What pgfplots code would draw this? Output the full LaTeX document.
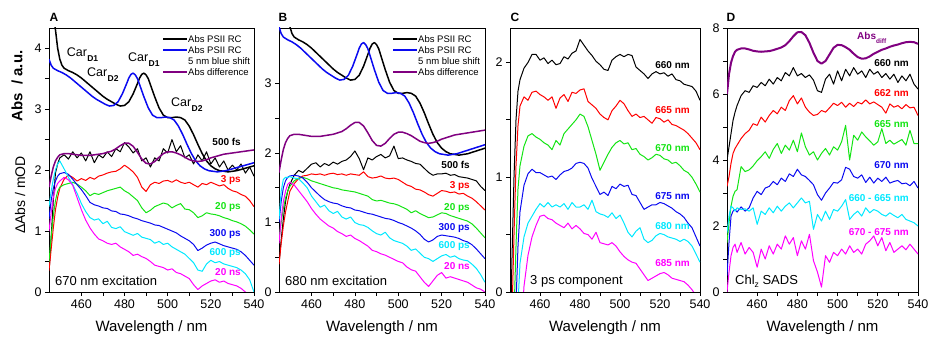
\documentclass[border=0pt]{standalone}
\usepackage{pgfplots}
\usepackage{pgfplotstable}
\pgfplotsset{compat=1.18}
\usepackage{fontspec}
\setmainfont{Liberation Sans}
\definecolor{cred}{RGB}{255,0,0}
\definecolor{cgreen}{RGB}{20,228,20}
\definecolor{cblue}{RGB}{10,10,240}
\definecolor{ccyan}{RGB}{0,232,255}
\definecolor{cmag}{RGB}{255,0,255}
\definecolor{cpurple}{RGB}{128,0,128}

\pgfplotstableread{
nm fs p3 p20 p300 p600 n20
445 0.30 0.35 0.50 1.20 1.40 1.00
446 0.90 0.70 0.90 1.50 1.65 1.30
447 1.50 1.05 1.25 1.70 1.85 1.55
448 1.95 1.35 1.50 1.82 2.00 1.70
449 2.10 1.55 1.65 1.90 2.10 1.78
450 2.20 1.70 1.72 1.94 2.15 1.82
452 2.25 1.85 1.76 1.96 2.02 1.88
454 2.18 1.92 1.78 1.93 1.88 1.84
456 2.30 1.88 1.80 1.85 1.76 1.75
458 2.20 1.82 1.77 1.76 1.62 1.55
460 2.28 1.86 1.72 1.68 1.45 1.35
462 2.15 1.83 1.66 1.58 1.32 1.18
464 2.30 1.88 1.58 1.47 1.22 1.05
466 2.12 1.85 1.62 1.43 1.18 0.95
468 2.25 1.90 1.60 1.41 1.20 0.87
470 2.20 1.92 1.63 1.38 1.12 0.84
472 2.30 1.95 1.66 1.37 1.16 0.80
474 2.22 1.97 1.68 1.33 1.06 0.78
476 2.35 1.98 1.70 1.32 1.04 0.80
478 2.30 2.02 1.72 1.28 1.07 0.74
480 2.45 2.08 1.66 1.27 0.99 0.70
482 2.38 2.03 1.62 1.25 0.96 0.66
484 2.28 1.97 1.56 1.22 0.93 0.60
486 2.35 1.88 1.50 1.20 0.96 0.62
488 2.15 1.72 1.38 1.17 0.90 0.58
490 2.20 1.65 1.30 1.15 0.88 0.55
492 2.05 1.76 1.34 1.13 0.86 0.50
494 2.20 1.80 1.40 1.10 0.80 0.44
496 2.15 1.78 1.43 1.09 0.83 0.42
498 2.35 1.82 1.46 1.06 0.78 0.40
500 2.28 1.83 1.44 1.03 0.80 0.36
502 2.50 1.80 1.38 1.00 0.74 0.38
504 2.30 1.84 1.42 0.97 0.70 0.32
506 2.40 1.80 1.45 0.92 0.66 0.30
508 2.20 1.78 1.36 0.88 0.62 0.26
510 2.25 1.80 1.35 0.84 0.55 0.22
512 2.10 1.76 1.30 0.78 0.48 0.12
514 2.25 1.72 1.22 0.68 0.36 0.04
516 2.15 1.78 1.25 0.72 0.34 0.10
518 2.30 1.76 1.30 0.77 0.46 0.14
520 2.10 1.80 1.28 0.80 0.52 0.18
522 2.20 1.77 1.27 0.82 0.48 0.20
524 2.05 1.74 1.25 0.79 0.50 0.16
526 2.15 1.76 1.22 0.76 0.46 0.18
528 2.00 1.70 1.20 0.74 0.44 0.14
530 2.08 1.66 1.17 0.72 0.42 0.12
532 2.00 1.64 1.15 0.70 0.40 0.10
534 2.10 1.60 1.12 0.66 0.36 0.06
536 1.95 1.57 1.08 0.60 0.30 0.00
538 2.05 1.50 1.02 0.52 0.20 -0.05
540 1.90 1.40 0.95 0.44 0.00 -0.10
}\tabA

\pgfplotstableread{
nm fs p3 p20 p300 p600 n20
445 0.40 0.40 0.75 1.00 1.05 0.70
446 0.75 0.70 1.00 1.30 1.45 1.05
447 1.05 0.95 1.20 1.50 1.62 1.30
448 1.30 1.15 1.35 1.60 1.65 1.45
449 1.45 1.30 1.45 1.65 1.65 1.55
450 1.55 1.45 1.52 1.67 1.66 1.58
452 1.68 1.56 1.60 1.68 1.64 1.54
454 1.75 1.63 1.64 1.67 1.63 1.46
456 1.72 1.67 1.65 1.64 1.57 1.38
458 1.78 1.68 1.63 1.58 1.50 1.30
460 1.84 1.70 1.60 1.50 1.38 1.20
462 1.86 1.69 1.58 1.44 1.30 1.12
464 1.80 1.70 1.56 1.38 1.22 1.05
466 1.85 1.68 1.54 1.33 1.25 1.00
468 1.82 1.70 1.52 1.30 1.17 0.95
470 1.87 1.71 1.50 1.28 1.13 0.92
472 1.84 1.69 1.49 1.27 1.16 0.87
474 1.88 1.70 1.47 1.24 1.08 0.84
476 1.90 1.68 1.46 1.22 1.05 0.80
478 1.95 1.70 1.45 1.21 1.08 0.82
480 2.03 1.69 1.44 1.18 1.00 0.77
482 1.92 1.68 1.42 1.17 0.97 0.74
484 1.76 1.73 1.40 1.15 0.96 0.70
486 1.93 1.66 1.38 1.13 0.93 0.66
488 1.90 1.64 1.33 1.12 0.88 0.60
490 1.95 1.65 1.31 1.10 0.84 0.58
492 1.98 1.67 1.32 1.08 0.82 0.55
494 1.93 1.64 1.30 1.06 0.86 0.53
496 1.96 1.63 1.28 1.05 0.78 0.50
498 2.10 1.64 1.27 1.03 0.74 0.47
500 1.92 1.62 1.25 1.00 0.72 0.44
502 1.93 1.58 1.22 0.98 0.70 0.42
504 1.90 1.54 1.19 0.95 0.66 0.36
506 1.88 1.52 1.14 0.92 0.60 0.32
508 1.85 1.48 1.17 0.88 0.62 0.30
510 1.84 1.47 1.13 0.83 0.56 0.22
512 1.78 1.44 1.10 0.76 0.50 0.14
514 1.72 1.40 1.07 0.72 0.48 0.08
516 1.68 1.38 1.08 0.75 0.44 0.16
518 1.70 1.42 1.11 0.80 0.48 0.24
520 1.70 1.46 1.14 0.82 0.52 0.28
522 1.71 1.45 1.13 0.81 0.54 0.20
524 1.68 1.43 1.10 0.80 0.50 0.22
526 1.69 1.44 1.08 0.79 0.52 0.20
528 1.66 1.41 1.06 0.77 0.48 0.18
530 1.65 1.42 1.04 0.74 0.46 0.16
532 1.64 1.38 1.02 0.72 0.45 0.14
534 1.62 1.35 0.98 0.68 0.40 0.10
536 1.60 1.30 0.92 0.62 0.34 0.06
538 1.52 1.24 0.85 0.55 0.25 0.04
540 1.46 1.18 0.78 0.48 0.14 0.00
}\tabB

\pgfplotstableread{
nm a b c d e f
445 -0.5 -0.5 -0.5 -0.5 -0.5 -0.5
446 0.30 -0.2 -0.5 -0.5 -0.5 -0.5
447 1.00 0.50 -0.2 -0.5 -0.5 -0.5
448 1.50 1.10 0.40 -0.1 -0.5 -0.5
449 1.75 1.45 0.90 0.40 -0.1 -0.5
450 1.85 1.62 1.10 0.70 0.25 -0.5
452 1.95 1.70 1.27 0.93 0.48 0.05
454 2.00 1.67 1.36 1.03 0.60 0.32
456 2.07 1.74 1.38 1.07 0.66 0.48
458 2.07 1.75 1.35 1.04 0.72 0.58
460 2.02 1.72 1.33 1.04 0.77 0.66
462 2.04 1.70 1.30 1.02 0.74 0.67
464 1.99 1.67 1.28 1.00 0.78 0.64
466 2.02 1.70 1.24 1.01 0.74 0.63
468 1.98 1.60 1.32 0.98 0.76 0.60
470 1.99 1.69 1.28 1.02 0.74 0.58
472 2.05 1.72 1.38 1.05 0.77 0.56
474 2.03 1.66 1.42 1.06 0.72 0.60
476 2.08 1.74 1.46 1.08 0.78 0.55
478 2.10 1.73 1.50 1.12 0.74 0.58
480 2.20 1.76 1.55 1.13 0.74 0.55
482 2.15 1.77 1.53 1.12 0.76 0.51
484 2.10 1.66 1.44 1.08 0.72 0.50
486 2.06 1.63 1.32 0.99 0.80 0.46
488 2.01 1.60 1.20 0.92 0.70 0.52
490 1.98 1.55 1.06 0.85 0.68 0.43
492 1.94 1.52 1.13 0.87 0.67 0.42
494 1.93 1.50 1.20 0.84 0.65 0.41
496 2.02 1.58 1.26 0.92 0.69 0.43
498 2.05 1.62 1.30 0.90 0.64 0.40
500 2.07 1.67 1.32 0.94 0.67 0.35
502 2.05 1.64 1.29 0.92 0.60 0.31
504 2.07 1.58 1.30 0.93 0.52 0.28
506 2.06 1.53 1.24 0.85 0.48 0.26
508 1.96 1.55 1.25 0.84 0.53 0.25
510 1.93 1.52 1.20 0.78 0.56 0.20
512 1.90 1.53 1.18 0.72 0.46 0.15
514 1.86 1.50 1.15 0.74 0.43 0.10
516 1.90 1.47 1.17 0.76 0.45 0.12
518 1.92 1.52 1.20 0.76 0.49 0.14
520 1.90 1.51 1.19 0.78 0.51 0.16
522 1.91 1.48 1.16 0.77 0.50 0.17
524 1.88 1.50 1.15 0.75 0.48 0.15
526 1.90 1.46 1.12 0.73 0.47 0.12
528 1.85 1.45 1.13 0.70 0.46 0.11
530 1.84 1.43 1.10 0.68 0.44 0.10
532 1.81 1.41 1.06 0.65 0.46 0.09
534 1.80 1.38 1.04 0.60 0.44 0.06
536 1.79 1.34 1.00 0.56 0.40 0.02
538 1.75 1.30 0.94 0.48 0.33 -0.03
540 1.67 1.24 0.87 0.40 0.26 -0.08
}\tabC

\pgfplotstableread{
nm ab a b c d e f
445 6.00 4.00 3.20 1.50 0.50 1.80 0.00
446 6.60 4.40 3.50 2.10 1.50 2.30 0.60
447 6.95 4.80 3.90 2.60 2.30 2.60 1.10
448 7.15 5.20 4.20 2.90 2.45 2.55 1.35
449 7.28 5.45 4.35 3.05 2.50 2.45 1.45
450 7.34 5.65 4.45 3.10 2.42 2.55 1.20
452 7.38 5.95 4.65 3.80 2.58 2.50 1.50
454 7.38 6.10 4.80 3.65 2.45 2.52 1.15
456 7.35 6.05 4.90 3.70 2.55 2.45 1.35
458 7.31 6.25 5.10 3.82 2.85 2.55 1.20
460 7.29 6.20 5.05 3.98 3.05 2.05 0.75
462 7.28 6.35 5.30 4.10 2.95 2.45 1.30
464 7.29 6.25 5.15 4.25 3.15 2.35 1.00
466 7.30 6.45 5.35 4.05 3.20 2.55 1.40
468 7.33 6.30 5.50 4.32 3.35 2.40 1.15
470 7.37 6.50 5.40 4.50 3.25 2.60 1.45
472 7.41 6.40 5.60 4.20 3.45 2.45 1.30
474 7.48 6.65 5.50 4.45 3.35 2.60 1.70
476 7.60 6.55 5.80 4.30 3.58 2.70 1.45
478 7.75 6.80 5.95 4.60 3.50 2.55 1.65
480 7.87 6.55 5.70 4.25 3.72 2.70 1.10
482 7.88 6.62 5.88 4.82 3.55 2.85 1.55
484 7.78 6.50 5.60 4.40 3.50 2.70 1.30
486 7.55 6.58 5.45 4.15 3.38 2.75 1.75
488 7.25 6.42 5.35 4.25 3.25 1.90 0.95
490 7.00 6.10 5.38 4.00 2.95 2.35 0.60
492 6.92 6.05 5.50 4.20 2.78 2.15 0.15
494 7.00 6.45 5.45 4.35 3.00 2.45 1.10
496 7.20 6.60 5.58 4.15 3.15 2.20 0.90
498 7.40 6.30 5.72 4.40 3.32 2.50 1.20
500 7.49 6.70 5.65 4.30 3.30 2.45 1.10
502 7.48 6.40 5.75 4.55 3.40 2.60 1.30
504 7.42 6.75 5.60 5.05 3.78 2.80 1.15
506 7.34 6.55 5.72 4.00 3.72 2.20 1.40
508 7.22 6.80 5.62 4.75 3.50 2.35 1.20
510 7.12 6.60 5.75 4.60 3.45 2.45 1.30
512 7.07 6.70 5.70 4.85 3.55 2.30 1.15
514 7.08 6.50 5.82 4.70 3.32 2.55 1.45
516 7.14 6.75 5.70 4.58 3.48 2.40 1.55
518 7.22 6.60 5.76 4.45 3.30 2.50 1.70
520 7.28 6.68 5.68 4.55 3.45 2.45 1.40
522 7.34 6.50 5.60 4.95 3.35 2.35 1.65
524 7.38 6.62 5.42 4.50 3.48 2.30 1.25
526 7.43 6.45 5.70 4.60 3.30 2.40 1.50
528 7.47 6.60 5.60 4.48 3.35 2.32 1.20
530 7.50 6.35 5.65 4.55 3.38 2.25 1.30
532 7.54 6.55 5.55 4.62 3.28 2.35 1.40
534 7.57 6.40 5.68 4.45 3.30 2.20 1.28
536 7.58 6.60 5.58 4.90 3.22 2.15 1.45
538 7.57 6.30 5.60 4.50 3.35 2.10 1.30
540 7.52 6.15 5.35 4.50 3.15 2.00 1.15
}\tabD

\pgfplotstableread{
nm v
446 4.90
447 4.60
448 4.30
449 4.00
450 3.82
451 3.72
452 3.67
454 3.63
456 3.60
458 3.56
460 3.51
462 3.45
464 3.39
466 3.33
468 3.27
470 3.21
472 3.16
474 3.12
476 3.08
478 3.05
480 3.06
482 3.12
484 3.25
486 3.42
487 3.51
488 3.57
489 3.59
490 3.56
491 3.50
492 3.40
494 3.20
496 3.02
498 2.90
500 2.86
502 2.86
504 2.87
506 2.86
508 2.82
510 2.72
512 2.58
514 2.42
516 2.27
518 2.15
520 2.07
522 2.02
524 1.99
526 1.98
528 1.97
530 1.98
532 1.99
534 2.01
536 2.03
538 2.05
540 2.07
}\absblack

\pgfplotstableread{
nm v
445 3.82
446 3.72
447 3.67
449 3.63
451 3.60
453 3.56
455 3.51
457 3.45
459 3.39
461 3.33
463 3.27
465 3.21
467 3.16
469 3.12
471 3.08
473 3.05
475 3.06
477 3.12
479 3.25
481 3.42
482 3.51
483 3.57
484 3.59
485 3.56
486 3.50
487 3.40
489 3.20
491 3.02
493 2.90
495 2.86
497 2.86
499 2.87
501 2.86
503 2.82
505 2.72
507 2.58
509 2.42
511 2.27
513 2.15
515 2.07
517 2.02
519 1.99
521 1.98
523 1.97
525 1.98
527 1.99
529 2.01
531 2.03
533 2.05
535 2.07
537 2.09
540 2.12
}\absblue

\pgfplotstableread{
nm v
445 1.72
446 1.90
447 2.05
448 2.15
449 2.21
450 2.25
452 2.27
454 2.27
456 2.26
458 2.25
460 2.24
462 2.24
464 2.24
466 2.25
468 2.26
470 2.27
472 2.29
474 2.31
476 2.35
478 2.40
480 2.44
482 2.44
484 2.39
486 2.29
488 2.18
490 2.11
492 2.10
494 2.14
496 2.21
498 2.27
500 2.30
502 2.30
504 2.28
506 2.25
508 2.21
510 2.17
512 2.15
514 2.14
516 2.15
518 2.17
520 2.20
522 2.22
524 2.24
526 2.26
528 2.27
530 2.28
532 2.29
534 2.30
536 2.31
538 2.32
540 2.33
}\absdiff

\pgfplotsset{
  panel/.style={
    scale only axis, height=264pt, anchor=south west,
    xmin=445, xmax=540, ymin=0,
    xtick={460,480,500,520,540}, minor x tick num=1, minor y tick num=1,
    tick align=outside, tick pos=left,
    major tick length=4pt, minor tick length=4pt,
    every tick/.style={black, line width=0.7pt},
    axis line style={line width=0.8pt},
    ticklabel style={font=\fontsize{12.5}{13}\selectfont},
    /pgf/number format/assume math mode=true,
  },
  kin/.style={line width=1pt, line join=round},
  absl/.style={line width=1.5pt, line join=round},
}

\newcommand{\lab}[3]{\node[anchor=east, text=#1, font=\fontsize{10}{10}\selectfont\bfseries, inner sep=0pt] at #2 {#3};}
\newcommand{\car}[1]{Car\kern0.3pt\raisebox{-5pt}{\fontsize{8.5}{8.5}\selectfont\bfseries #1}}
% legend block: #1 = x of swatch start (pt)
\newcommand{\absleg}[1]{%
  \draw[line width=2pt, black] (#1pt,301.3pt) -- ++(24pt,0pt);
  \draw[line width=2pt, cblue] (#1pt,290.3pt) -- ++(24pt,0pt);
  \draw[line width=2pt, cpurple] (#1pt,268pt) -- ++(24pt,0pt);
  \begin{scope}[font=\fontsize{9.5}{10}\selectfont, inner sep=0pt, xshift=#1pt]
    \node[anchor=west] at (25pt,301.3pt) {Abs PSII RC};
    \node[anchor=west] at (25pt,290.3pt) {Abs PSII RC};
    \node[anchor=west] at (25pt,278.7pt) {5 nm blue shift};
    \node[anchor=west] at (25pt,268pt) {Abs difference};
  \end{scope}}

\begin{document}
\begin{tikzpicture}
\useasboundingbox (0,0) rectangle (929pt,340pt);

% ---------- A ----------
\begin{axis}[panel, at={(49pt,48pt)}, width=205pt, ymax=4.33, ytick={0,1,2,3,4}]
\addplot[kin, black] table[x=nm, y=fs] {\tabA};
\addplot[kin, cred] table[x=nm, y=p3] {\tabA};
\addplot[kin, cgreen] table[x=nm, y=p20] {\tabA};
\addplot[kin, cblue] table[x=nm, y=p300] {\tabA};
\addplot[kin, ccyan] table[x=nm, y=p600] {\tabA};
\addplot[kin, cmag] table[x=nm, y=n20] {\tabA};
\addplot[absl, black] table[x=nm, y=v] {\absblack};
\addplot[absl, cblue] table[x=nm, y=v] {\absblue};
\addplot[absl, cpurple] table[x=nm, y=v] {\absdiff};
\end{axis}

% ---------- B ----------
\begin{axis}[panel, at={(279pt,48pt)}, width=206pt, ymax=3.8, ytick={0,1,2,3}]
\addplot[kin, black] table[x=nm, y=fs] {\tabB};
\addplot[kin, cred] table[x=nm, y=p3] {\tabB};
\addplot[kin, cgreen] table[x=nm, y=p20] {\tabB};
\addplot[kin, cblue] table[x=nm, y=p300] {\tabB};
\addplot[kin, ccyan] table[x=nm, y=p600] {\tabB};
\addplot[kin, cmag] table[x=nm, y=n20] {\tabB};
\addplot[absl, black] table[x=nm, y=v] {\absblack};
\addplot[absl, cblue] table[x=nm, y=v] {\absblue};
\addplot[absl, cpurple] table[x=nm, y=v] {\absdiff};
\end{axis}

% ---------- C ----------
\begin{axis}[panel, at={(510pt,48pt)}, width=190pt, ymax=2.3, ytick={0,1,2}]
\addplot[kin, black] table[x=nm, y=a] {\tabC};
\addplot[kin, cred] table[x=nm, y=b] {\tabC};
\addplot[kin, cgreen] table[x=nm, y=c] {\tabC};
\addplot[kin, cblue] table[x=nm, y=d] {\tabC};
\addplot[kin, ccyan] table[x=nm, y=e] {\tabC};
\addplot[kin, cmag] table[x=nm, y=f] {\tabC};
\end{axis}

% ---------- D ----------
\begin{axis}[panel, at={(727pt,48pt)}, width=191pt, ymax=8, ytick={0,2,4,6,8}]
\addplot[line width=2pt, cpurple, line join=round] table[x=nm, y=ab] {\tabD};
\addplot[kin, black] table[x=nm, y=a] {\tabD};
\addplot[kin, cred] table[x=nm, y=b] {\tabD};
\addplot[kin, cgreen] table[x=nm, y=c] {\tabD};
\addplot[kin, cblue] table[x=nm, y=d] {\tabD};
\addplot[kin, ccyan] table[x=nm, y=e] {\tabD};
\addplot[kin, cmag] table[x=nm, y=f] {\tabD};
\end{axis}

% legends
\absleg{163}
\absleg{393}

% panel letters
\foreach \x/\t in {54/A, 283/B, 515/C, 731/D}
  \node[font=\fontsize{12}{12}\selectfont\bfseries, inner sep=0pt] at (\x pt, 323pt) {\t};

% y labels
\node[rotate=90, font=\fontsize{15}{15}\selectfont\bfseries, inner sep=0pt] at (17pt,254pt) {Abs~~/ a.u.};
\node[rotate=90, font=\fontsize{14}{14}\selectfont, inner sep=0pt] at (20pt,145pt) {ΔAbs / mOD};

% x labels
\foreach \x in {151.5, 382, 605, 822.5}
  \node[font=\fontsize{15}{15}\selectfont, inner sep=0pt] at (\x pt, 12pt) {Wavelength / nm};

% Car labels
\node[anchor=west, font=\fontsize{12.5}{13}\selectfont, inner sep=0pt] at (66.7pt,285pt) {\car{D1}};
\node[anchor=west, font=\fontsize{12.5}{13}\selectfont, inner sep=0pt] at (87pt,265pt) {\car{D2}};
\node[anchor=west, font=\fontsize{12.5}{13}\selectfont, inner sep=0pt] at (128pt,280pt) {\car{D1}};
\node[anchor=west, font=\fontsize{12.5}{13}\selectfont, inner sep=0pt] at (171pt,235pt) {\car{D2}};

% A curve labels
\lab{black}{(241pt,198.3pt)}{500 fs}
\lab{cred}{(241pt,160pt)}{3 ps}
\lab{cgreen}{(241pt,133.3pt)}{20 ps}
\lab{cblue}{(241pt,106pt)}{300 ps}
\lab{ccyan}{(241pt,86.7pt)}{600 ps}
\lab{cmag}{(241pt,68.3pt)}{20 ns}
% B curve labels
\lab{black}{(470pt,175pt)}{500 fs}
\lab{cred}{(470pt,154pt)}{3 ps}
\lab{cgreen}{(470pt,132pt)}{20 ps}
\lab{cblue}{(470pt,112pt)}{300 ps}
\lab{ccyan}{(470pt,94pt)}{600 ps}
\lab{cmag}{(470pt,74pt)}{20 ns}
% C curve labels
\lab{black}{(690pt,275pt)}{660 nm}
\lab{cred}{(690pt,230pt)}{665 nm}
\lab{cgreen}{(690pt,191.7pt)}{670 nm}
\lab{cblue}{(690pt,144.3pt)}{675 nm}
\lab{ccyan}{(690pt,114pt)}{680 nm}
\lab{cmag}{(690pt,77.3pt)}{685 nm}
% D curve labels
\lab{black}{(909pt,276.7pt)}{660 nm}
\lab{cred}{(909pt,246.7pt)}{662 nm}
\lab{cgreen}{(909pt,215.7pt)}{665 nm}
\lab{cblue}{(909pt,175pt)}{670 nm}
\lab{ccyan}{(909pt,141.7pt)}{660 - 665 nm}
\lab{cmag}{(909pt,108.3pt)}{670 - 675 nm}
\node[anchor=west, text=cpurple, font=\fontsize{10}{10}\selectfont\bfseries, inner sep=0pt] at (857pt,302pt) {Abs\raisebox{-3.5pt}{\fontsize{6.5}{6.5}\selectfont diff}};

% bottom-left annotations
\node[anchor=west, font=\fontsize{13}{13}\selectfont, inner sep=0pt] at (55pt,59pt) {670 nm excitation};
\node[anchor=west, font=\fontsize{13}{13}\selectfont, inner sep=0pt] at (285pt,59pt) {680 nm excitation};
\node[anchor=west, font=\fontsize{13}{13}\selectfont, inner sep=0pt] at (530pt,58.3pt) {3 ps component};
\node[anchor=west, font=\fontsize{13}{13}\selectfont, inner sep=0pt] at (735pt,58.3pt) {Chl\raisebox{-3pt}{\fontsize{8.5}{8.5}\selectfont z} SADS};
\end{tikzpicture}
\end{document}
